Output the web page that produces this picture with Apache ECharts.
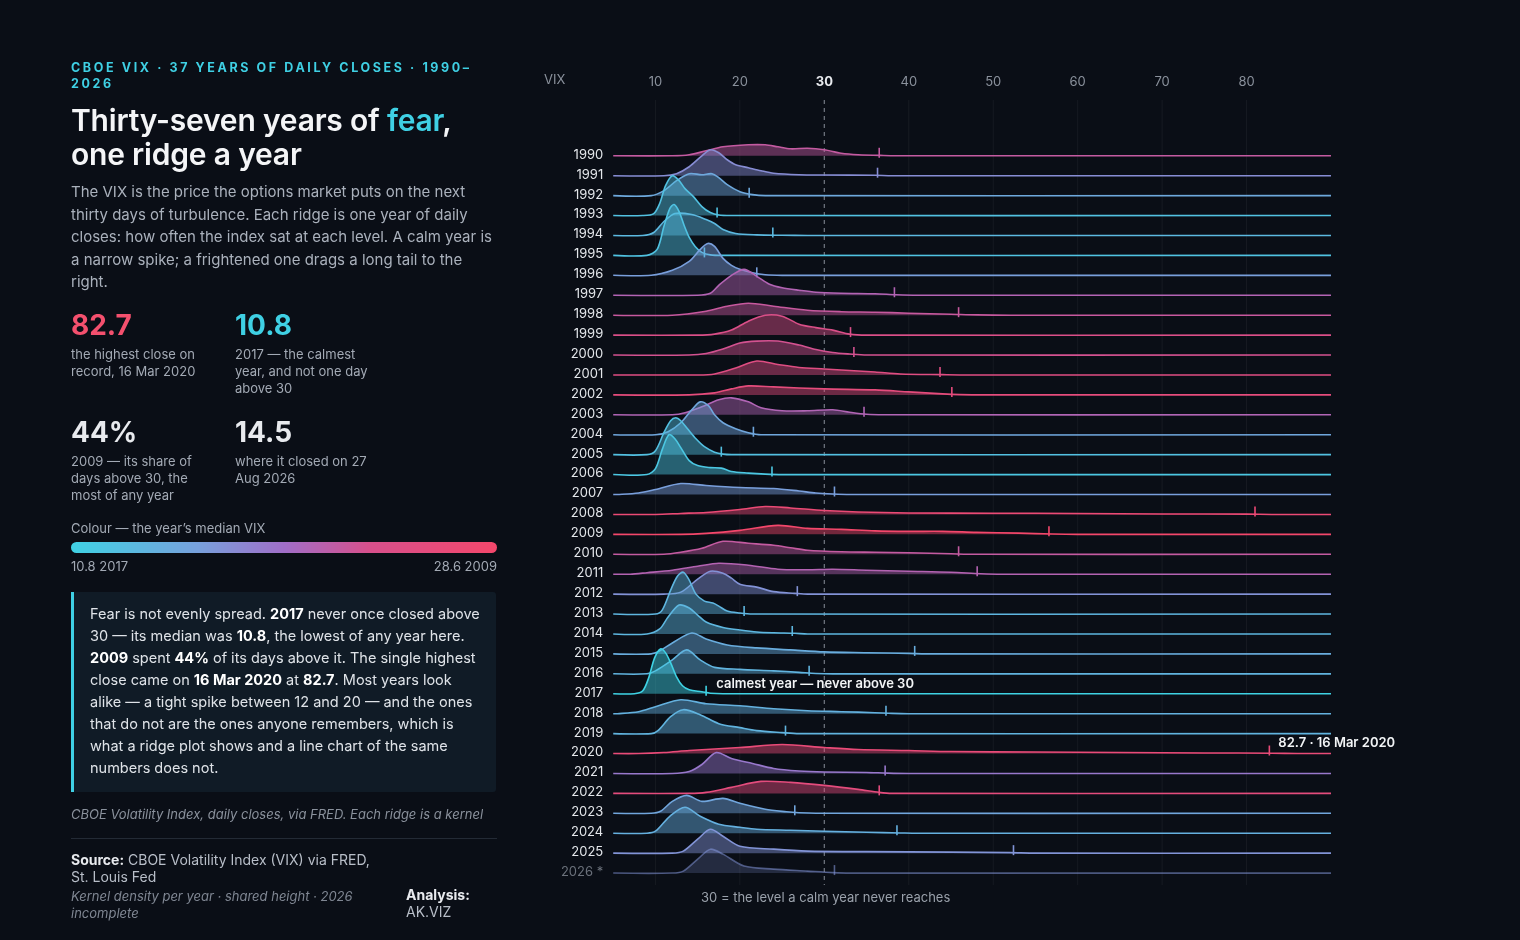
<!DOCTYPE html>
<html><head><meta charset="utf-8">
<script src="https://cdn.jsdelivr.net/npm/echarts@6/dist/echarts.min.js"></script>
<style>
html,body{margin:0;padding:0;background:#0a0e16;width:1520px;height:940px;overflow:hidden;font-family:Inter,"Noto Sans",sans-serif;}
#chart{position:absolute;left:0;top:0;width:1520px;height:940px;}
#side{position:absolute;left:71px;top:0;width:426px;color:#e8eaee;}
.kick{position:absolute;top:60px;left:0;width:420px;font-size:12.5px;font-weight:700;letter-spacing:2.6px;color:#3fd0e4;line-height:16px;}
.title{position:absolute;top:103px;left:0;font-size:30px;font-weight:600;line-height:34px;color:#f4f5f7;letter-spacing:-0.2px;}
.title b{color:#3fd0e4;font-weight:600}
.lede{position:absolute;top:181px;left:0;width:428px;font-size:15px;line-height:22.5px;color:#aab1bc;}
.stat{position:absolute;width:150px}
.stat .n{font-size:28px;font-weight:700;line-height:32px;}
.stat .c{font-size:13px;line-height:17px;color:#a3aab5;margin-top:5px}
.leg{position:absolute;top:520px;left:0;font-size:13px;color:#a3aab5}
.bar{position:absolute;top:542px;left:0;width:426px;height:11px;border-radius:6px;background:linear-gradient(90deg,#3fd2e4 0%,#78a0dc 30%,#a06ec8 50%,#d7508c 70%,#f4476b 100%);}
.bl{position:absolute;top:558px;font-size:13px;color:#a3aab5}
.box{position:absolute;top:592px;left:0;width:396px;height:178px;background:#101b26;border-left:3px solid #3fd0e4;padding:11px 10px 11px 16px;font-size:14.5px;line-height:22px;color:#dfe3e8;border-radius:0 3px 3px 0}
.box b{color:#fff;font-weight:700}
.note{position:absolute;top:806px;left:0;width:412px;font-size:13px;font-style:italic;color:#8a919c;white-space:nowrap;overflow:hidden}
.rule{position:absolute;top:838px;left:0;width:426px;height:1px;background:#232a35}
.src{position:absolute;top:851px;left:0;width:320px;font-size:14px;line-height:17px;color:#b8bec8}
.src b{color:#e8eaee}
.meth{position:absolute;top:888px;left:0;width:310px;font-size:13px;line-height:17px;font-style:italic;color:#7f8692}
.an{position:absolute;top:886px;left:335px;font-size:14px;line-height:17px;color:#b8bec8}
.an b{color:#e8eaee}
</style></head>
<body>
<div id="chart"></div>
<div id="side">
<div class="kick">CBOE VIX · 37 YEARS OF DAILY CLOSES · 1990–2026</div>
<div class="title">Thirty-seven years of <b>fear</b>,<br>one ridge a year</div>
<div class="lede">The VIX is the price the options market puts on the next thirty days of turbulence. Each ridge is one year of daily closes: how often the index sat at each level. A calm year is a narrow spike; a frightened one drags a long tail to the right.</div>
<div class="stat" style="top:309px;left:0"><div class="n" style="color:#f4506e">82.7</div><div class="c">the highest close on record, 16 Mar 2020</div></div>
<div class="stat" style="top:309px;left:164px"><div class="n" style="color:#3fd0e4">10.8</div><div class="c">2017 — the calmest year, and not one day above 30</div></div>
<div class="stat" style="top:416px;left:0"><div class="n">44%</div><div class="c">2009 — its share of days above 30, the most of any year</div></div>
<div class="stat" style="top:416px;left:164px"><div class="n">14.5</div><div class="c">where it closed on 27 Aug 2026</div></div>
<div class="leg">Colour — the year’s median VIX</div>
<div class="bar"></div>
<div class="bl" style="left:0">10.8 2017</div>
<div class="bl" style="right:0">28.6 2009</div>
<div class="box">Fear is not evenly spread. <b>2017</b> never once closed above 30 — its median was <b>10.8</b>, the lowest of any year here. <b>2009</b> spent <b>44%</b> of its days above it. The single highest close came on <b>16 Mar 2020</b> at <b>82.7</b>. Most years look alike — a tight spike between 12 and 20 — and the ones that do not are the ones anyone remembers, which is what a ridge plot shows and a line chart of the same numbers does not.</div>
<div class="note">CBOE Volatility Index, daily closes, via FRED. Each ridge is a kernel density estimate.</div>
<div class="rule"></div>
<div class="src"><b>Source:</b> CBOE Volatility Index (VIX) via FRED, St. Louis Fed</div>
<div class="meth">Kernel density per year · shared height · 2026 incomplete</div>
<div class="an"><b>Analysis:</b><br>AK.VIZ</div>
</div>
<script>
const years = [1990,1991,1992,1993,1994,1995,1996,1997,1998,1999,2000,2001,2002,2003,2004,2005,2006,2007,2008,2009,2010,2011,2012,2013,2014,2015,2016,2017,2018,2019,2020,2021,2022,2023,2024,2025,2026];
const yearLabels = years.map(y => y === 2026 ? '2026 *' : String(y));
const medians = [22.0,17.5,15.2,12.6,13.5,12.4,16.2,20.9,22.2,23.9,23.0,24.8,25.8,20.8,15.4,12.7,12.0,16.2,27.0,28.6,22.0,21.0,17.1,13.8,13.7,14.7,14.0,10.8,14.3,14.0,26.5,19.0,25.7,15.5,14.4,17.0,17.0];
const maxima = [36.5,36.3,21.1,17.3,23.9,15.8,22.0,38.3,45.9,33.1,33.5,43.7,45.1,34.7,21.6,17.8,23.8,31.2,81.0,56.6,45.9,48.1,26.8,20.5,26.2,40.7,28.2,16.0,37.3,25.4,82.7,37.2,36.5,26.5,38.6,52.4,31.2];
// density heights: [VIX level, ridge height]
const densities = [
 [[12,0],[14,1],[16,5],[18,9],[21,11],[23,11],[24.5,9],[26,7],[28,7.5],[30,6],[32,2.5],[34,1],[37,0.3],[40,0]],
 [[11,0],[12.5,2],[14,9],[15.5,20],[16.5,26],[17.5,23],[18.5,16],[19.5,11],[21,8],[22.5,5],[24,2.5],[27,1],[30,0.7],[36,0.4],[38,0]],
 [[9.5,0],[11,5],[12.5,15],[14,22],[15.5,21],[16.7,22],[17.5,18],[18.5,11],[20,4],[21.5,1],[23,0]],
 [[8.5,0],[9.8,2],[10.5,12],[11.2,30],[12,40],[12.8,35],[13.5,27],[14.5,19],[15.5,9],[16.5,3],[17.5,0.5],[19,0]],
 [[8.5,0],[9.8,3],[11,14],[12.3,22],[14.3,21],[16,16],[17,12],[18,6],[19.5,2],[22,0.6],[25,0.2],[28,0]],
 [[9,0],[10.2,6],[11,29],[11.7,47],[12.2,51],[12.8,44],[13.4,30],[14,18],[14.7,9],[15.5,3],[16.5,0.5],[18,0]],
 [[9.5,0],[12,5],[14,14],[15.3,26],[16.2,32],[17,29],[18,17],[19,10],[20,6],[21.5,2.5],[23,0.5],[25,0]],
 [[15,0],[16.5,2],[17.5,10],[19,20],[20.5,26],[22,19],[23.5,11],[25,7.5],[27,5],[29,3],[32,2],[36,1.5],[38.5,0.5],[41,0]],
 [[12,0],[16,4],[18.5,9],[21,12],[24,9],[28,5],[32,3.5],[36,3],[40,2],[45,1],[48,0.3],[52,0]],
 [[15,0],[17,1],[19,5],[21,14],[23,20],[25,19],[27,11],[29,7.5],[31,5],[33,1],[35,0]],
 [[14,0],[16,1.5],[18,6],[20,12],[22,14],[24.5,14],[27,10],[29,5.5],[31,2.5],[33,1],[35,0]],
 [[15,0],[17,1],[19.5,7],[22,14],[24.5,10.5],[27,7.5],[30,6],[33,4.5],[36,3],[39,1],[44,0.3],[47,0]],
 [[14,0],[17,2],[19,6],[21,9],[24,8],[30,6],[36,5],[40,3],[44,1],[46,0.3],[49,0]],
 [[12,0],[13.5,2],[15.5,8],[17.5,15],[19,17],[21,13],[22.5,7],[25,4],[28,4],[31,5],[33,2.5],[35,0.5],[37,0]],
 [[10,0],[11.5,3],[13,12],[14.3,25],[15.3,33],[16.3,29],[17,20],[18,12],[19.5,6],[21,2],[22.5,0]],
 [[9,0],[10,4],[11,22],[11.8,34],[12.4,37],[13,34],[13.8,26],[14.8,16],[15.8,8],[17,2.5],[18,0.5],[19,0]],
 [[9,0],[10,6],[10.8,25],[11.6,40],[12.3,36],[13,27],[14,14],[15,9],[16.5,7],[17.8,6.5],[19,3],[21,1.5],[23,0.5],[25,0]],
 [[5.5,0],[8,1.5],[10,5],[13,11],[16,9],[20,7],[24,6],[27,3.5],[29,1.5],[31,0.5],[33,0]],
 [[10,0],[13,1],[16,2],[20,5],[23,8],[26,6.5],[30,4],[34,2.5],[40,1.5],[50,1.2],[60,1],[70,0.5],[80,0.3],[83,0]],
 [[13,0],[16,1],[20,4],[24.5,9],[28,6],[32,5],[36,3.5],[40,3],[44,3],[48,2],[53,1.2],[57,0.3],[60,0]],
 [[11,0],[13,2],[15.5,6],[18,13],[21,11],[24,9],[26,6.5],[28,4],[32,2.5],[36,2],[40,1.5],[45,0.5],[48,0]],
 [[7,0],[9,1.5],[12,4],[15,8],[17.5,11],[21,9],[24.5,5],[28,4.5],[31,5],[35,4],[40,3],[45,2],[48.5,0.5],[51,0]],
 [[11,0],[13,2],[15,15],[16.5,23],[18,21],[19,16],[20,10],[22,7],[24,2.5],[26.5,0.8],[28,0]],
 [[10,0],[10.8,4],[11.8,24],[12.6,38],[13.3,42],[14,34],[14.8,20],[15.8,13],[16.8,11],[17.5,8],[18.5,3],[20,1],[21.5,0]],
 [[9,0],[10.5,5],[11.5,17],[12.8,29],[14,26],[15,19],[16,12],[18,6.5],[20,4],[22,2],[24,1.2],[26.5,0.7],[28,0]],
 [[9.5,0],[10.5,3],[12,11],[14.3,21],[16,15],[18.5,9],[22,6],[26,4],[30,2],[35,1.2],[40,0.5],[42,0]],
 [[9,0],[10,3],[12,14],[13.7,24],[15.3,14],[17,6.5],[20,4.5],[24,3],[27,1.5],[29,0.4],[31,0]],
 [[7.5,0],[8.5,3],[9.2,16],[9.9,36],[10.6,45],[11.2,41],[11.8,31],[12.5,17],[13.2,8],[14,4],[15.5,2],[16.5,0.5],[18,0]],
 [[5.5,0],[8,2],[10,7],[13,14],[16,10],[20,8],[24,5],[28,3],[32,2],[36,1],[38,0.3],[40,0]],
 [[9.5,0],[10.3,3],[11.8,17],[13.3,24],[15.3,19],[17.5,10],[20,6],[22,3],[25,1],[27,0]],
 [[8,0],[11,1],[14,3],[20,6],[25,9],[30,6],[34,4],[40,3],[45,2],[55,1.5],[65,1],[75,0.6],[83,0.3],[86,0]],
 [[12,0],[14,2],[15.5,9],[17.2,21],[19,15],[21.5,10],[24,5],[27,2.5],[30,1.5],[35,1],[37.5,0.3],[40,0]],
 [[14,0],[16,1],[19,6],[22.5,12],[26,11],[30,8],[34,4],[36.5,1],[38,0]],
 [[9.5,0],[10.6,2],[12,12],[13.7,18],[15.5,12],[18,15],[20,10],[23,4],[25.5,1.5],[27,0.5],[29,0]],
 [[9,0],[10,2],[11.7,17],[13.5,26],[15.3,17],[17.5,9],[20,6],[22,4],[26,3],[30,2],[35,1],[39,0.3],[41,0]],
 [[12,0],[13.3,2],[15,14],[16.5,24],[18,17],[20,7],[24,4],[28,2],[35,1.5],[45,1],[52,0.5],[55,0]],
 [[12,0],[13.3,2],[15,14],[16.5,24],[18,19],[20.5,7],[24,4],[28,2],[31,0.5],[33,0]]
];
const xTicks = [10,20,30,40,50,60,70,80];
const X_START = 5, X_END = 90;

const stops = [[0,[63,210,228]],[0.3,[120,160,220]],[0.5,[160,110,200]],[0.7,[215,80,140]],[1,[244,71,107]]];
const lo = Math.min(...medians), hi = Math.max(...medians);
function colorFor(m){
  const t = Math.max(0,Math.min(1,(m-lo)/(hi-lo)));
  for(let i=1;i<stops.length;i++){
    if(t<=stops[i][0]){
      const a=stops[i-1], b=stops[i], f=(t-a[0])/(b[0]-a[0]);
      return a[1].map((v,k)=>Math.round(v+(b[1][k]-v)*f));
    }
  }
  return stops[stops.length-1][1];
}
const N = years.length;
const ROW = 20;
const chart = echarts.init(document.getElementById('chart'));
const ridgeData = years.map((y,i)=>[X_START, N-1-i, i]);
chart.setOption({
  backgroundColor:'#0a0e16',
  animation:false,
  grid:{left:571,right:189,top:96,bottom:47},
  xAxis:{type:'value',min:0,max:90,interval:10,position:'top',
    axisLine:{show:false},axisTick:{show:false},splitLine:{show:false},
    axisLabel:{margin:7,color:'#8a919c',fontSize:13,fontFamily:'Inter',
      formatter:v=> v===30?'{b|30}':(v>=10&&v<=80?String(v):''),
      rich:{b:{color:'#e8eaee',fontWeight:700,fontSize:13,fontFamily:'Inter'}}}},
  yAxis:{type:'value',min:-1,max:39,show:false},
  series:[
    {type:'custom',data:xTicks.map(v=>[v,0]),silent:true,encode:{x:0,y:1},
     renderItem:(params,api)=>{
       const v = api.value(0);
       const top = api.coord([v,38.8]), bot = api.coord([v,-0.6]);
       return {type:'line',shape:{x1:top[0],y1:top[1],x2:bot[0],y2:bot[1]},
         style: v===30?{stroke:'#6b717b',lineWidth:1.3,lineDash:[4,4]}:{stroke:'rgba(255,255,255,0.05)',lineWidth:1}};
     }},
    {type:'custom',data:ridgeData,encode:{x:0,y:1},clip:false,silent:true,
     renderItem:(params,api)=>{
       const i = api.value(2);
       const base = api.value(1);
       const dens = densities[i];
       const rgb = colorFor(medians[i]);
       const dim = years[i]===2026;
       const col = 'rgb('+rgb.join(',')+')';
       const pts = [[X_START,0]].concat(dens,[[X_END,0]]).map(p=>api.coord([p[0], base + p[1]/ROW]));
       const b0 = api.coord([X_START,base]);
       const b1 = api.coord([X_END,base]);
       const fillPts = pts.concat([b1,b0]);
       const mx = api.coord([maxima[i],base]);
       const children = [
         {type:'polygon',shape:{points:fillPts,smooth:0.3},
          style:{fill:'rgba('+rgb.join(',')+','+(dim?0.22:0.45)+')'}},
         {type:'polyline',shape:{points:pts,smooth:0.3},
          style:{fill:null,stroke:col,lineWidth:1.6,opacity:dim?0.55:1}},
         {type:'line',shape:{x1:mx[0],y1:mx[1]-8,x2:mx[0],y2:mx[1]+2},style:{stroke:col,lineWidth:1.6,opacity:dim?0.6:1}},
         {type:'text',x:b0[0]-10,y:b0[1]-1,style:{text:yearLabels[i],fill:dim?'#6b717b':'#e4e7eb',fontSize:13,fontFamily:'Inter',align:'right',verticalAlign:'middle'}}
       ];
       if(years[i]===2017){
         const p = api.coord([17.2,base]);
         children.push({type:'text',x:p[0],y:p[1]-10,style:{text:'calmest year — never above 30',fill:'#f2f4f6',fontSize:13,fontWeight:600,fontFamily:'Inter',verticalAlign:'middle'}});
       }
       if(years[i]===2020){
         const p = api.coord([maxima[i],base]);
         children.push({type:'text',x:p[0]+9,y:p[1]-10,style:{text:'82.7 · 16 Mar 2020',fill:'#f2f4f6',fontSize:13,fontWeight:600,fontFamily:'Inter',verticalAlign:'middle'}});
       }
       return {type:'group',children:children};
     }}
  ],
  graphic:[
    {type:'text',left:544,top:74,style:{text:'VIX',fill:'#8a919c',fontSize:13,fontFamily:'Inter'}},
    {type:'text',left:701,top:892,style:{text:'30 = the level a calm year never reaches',fill:'#9aa1ab',fontSize:13,fontFamily:'Inter'}}
  ]
});
</script>
</body></html>
